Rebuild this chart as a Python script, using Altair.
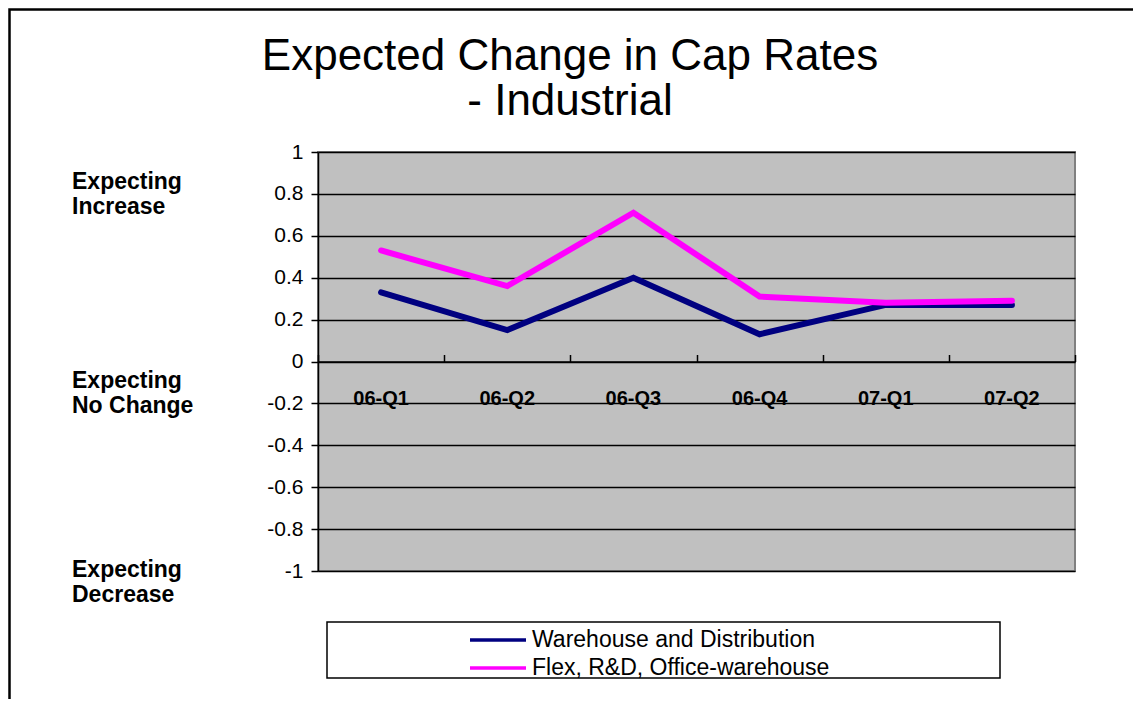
import altair as alt
import pandas as pd

quarters = ["06-Q1", "06-Q2", "06-Q3", "06-Q4", "07-Q1", "07-Q2"]
series_names = ["Warehouse and Distribution", "Flex, R&D, Office-warehouse"]
warehouse = [0.33, 0.15, 0.40, 0.13, 0.27, 0.27]
flex = [0.53, 0.36, 0.71, 0.31, 0.28, 0.29]
y_ticks = [-1, -0.8, -0.6, -0.4, -0.2, 0, 0.2, 0.4, 0.6, 0.8, 1]
title_lines = ["Expected Change in Cap Rates", "- Industrial"]
note_increase = ["Expecting", "Increase"]
note_nochange = ["Expecting", "No Change"]
note_decrease = ["Expecting", "Decrease"]
colors = ["#000080", "#FF00FF"]

rows = []
for q, v in zip(quarters, warehouse):
    rows.append({"quarter": q, "series": series_names[0], "value": v})
for q, v in zip(quarters, flex):
    rows.append({"quarter": q, "series": series_names[1], "value": v})
df = pd.DataFrame(rows)

FONT = "Liberation Sans"
W, H = 757, 419

xscale = alt.Scale(domain=quarters, paddingInner=0, paddingOuter=0)
yscale = alt.Scale(domain=[-1, 1], nice=False)

y_enc = alt.Y("value:Q", scale=yscale,
              axis=alt.Axis(values=y_ticks, title=None, grid=True, gridColor="black",
                            gridWidth=1.5, domainColor="black", domainWidth=1.5,
                            tickColor="black", tickSize=7, tickWidth=1.5,
                            labelFont=FONT, labelFontSize=21, labelColor="black",
                            labelPadding=8, labelFlush=False, labelOverlap=False,
                            labelExpr="(datum.value < 0 ? '-' : '') + format(abs(datum.value), '.1~f')"))

one = pd.DataFrame({"k": [0]})

frame = alt.Chart(one).mark_rect(filled=False, stroke="black", strokeWidth=2.5).encode(
    x=alt.value(-308.5), x2=alt.value(900), y=alt.value(-142.5), y2=alt.value(700)
)

legend_box = alt.Chart(one).mark_rect(fill="white", stroke="black", strokeWidth=1.5).encode(
    x=alt.value(9), x2=alt.value(682), y=alt.value(470), y2=alt.value(526)
)

title_text = alt.Chart(one).mark_text(
    text=title_lines, font=FONT, fontSize=44, align="center", baseline="top",
    lineHeight=45, color="black"
).encode(x=alt.value(252), y=alt.value(-117))

def note(lines, yv):
    return alt.Chart(one).mark_text(
        text=lines, font=FONT, fontSize=23, fontWeight="bold", align="left",
        baseline="middle", lineHeight=25, color="black"
    ).encode(x=alt.value(-246), y=alt.value(yv))

ticks_layer = alt.Chart(df).mark_line(strokeOpacity=0).encode(
    x=alt.X("quarter:N", sort=quarters, scale=xscale,
            axis=alt.Axis(orient="top", offset=-209.5, title=None, labels=False,
                          domain=False, ticks=True, tickBand="extent", tickSize=7,
                          tickColor="black", tickWidth=1.5, grid=False)),
    y=y_enc,
)

lines = alt.Chart(df).mark_line(strokeWidth=6, strokeCap="round").encode(
    x=alt.X("quarter:N", sort=quarters, scale=xscale,
            axis=alt.Axis(orient="bottom", offset=-209.5, title=None, labelAngle=0,
                          labelFont=FONT, labelFontSize=20, labelFontWeight="bold",
                          labelColor="black", labelPadding=27, ticks=False, tickSize=0,
                          domainColor="black", domainWidth=1.5, grid=False)),
    y=y_enc,
    color=alt.Color("series:N", sort=series_names,
                    scale=alt.Scale(domain=series_names, range=colors),
                    legend=alt.Legend(orient="none", legendX=178, legendY=472, title=None,
                                      direction="vertical", symbolType="M-3,0H1",
                                      symbolSize=784, symbolStrokeWidth=3.5,
                                      labelFont=FONT, labelFontSize=23, labelColor="black",
                                      labelOffset=4, rowPadding=-1, padding=0,
                                      labelLimit=600)),
    order=alt.Order("series:N"),
)

chart = alt.layer(
    frame, legend_box, ticks_layer, lines, title_text,
    note(note_increase, 30), note(note_nochange, 229), note(note_decrease, 418),
).resolve_axis(x="independent").properties(
    width=W, height=H,
    autosize=alt.AutoSizeParams(type="none"),
    padding={"left": 310, "top": 144, "right": 58, "bottom": 128},
    background="white",
).configure_view(fill="#C0C0C0", stroke="#808080", strokeWidth=2)

chart.save("out.html", embed_options={"renderer": "svg", "actions": False})
